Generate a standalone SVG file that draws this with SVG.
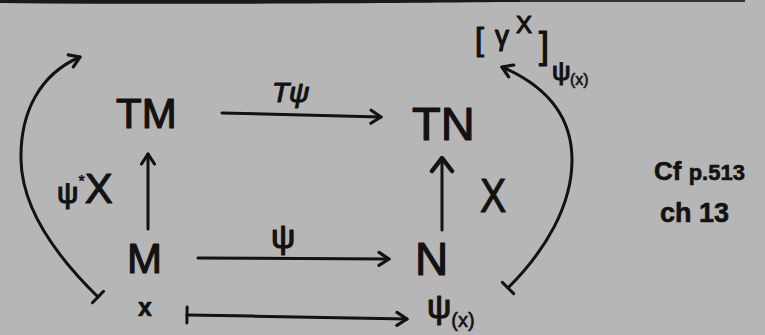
<svg xmlns="http://www.w3.org/2000/svg" width="765" height="335" viewBox="0 0 765 335">
  <defs>
    <style>
      .ink { fill: #121212; stroke: #121212; stroke-width: 1.2; stroke-linejoin: round; font-family: "Liberation Sans", "DejaVu Sans", sans-serif; }
      .thin { stroke-width: 0.6; }
      .line { fill: none; stroke: #121212; stroke-width: 3; stroke-linecap: round; stroke-linejoin: round; }
    </style>
    <!-- open chevron arrowhead -->
    <marker id="head" viewBox="-13 -9 15 18" refX="0" refY="0" markerWidth="15" markerHeight="18" markerUnits="userSpaceOnUse" orient="auto">
      <path d="M-10,-6.5 L0,0 L-10,6.5" fill="none" stroke="#121212" stroke-width="3.2" stroke-linecap="round" stroke-linejoin="round"/>
    </marker>
    <marker id="headBig" viewBox="-17 -13 19 26" refX="0" refY="0" markerWidth="19" markerHeight="26" markerUnits="userSpaceOnUse" orient="auto">
      <path d="M-13,-10 L0,0 L-13,10" fill="none" stroke="#121212" stroke-width="4.5" stroke-linecap="round" stroke-linejoin="round"/>
    </marker>
    <!-- maps-to tail bar -->
    <marker id="bar" viewBox="-3 -10 6 20" refX="0" refY="0" markerWidth="6" markerHeight="20" markerUnits="userSpaceOnUse" orient="auto">
      <path d="M0,-8 L0,8" stroke="#121212" stroke-width="3" stroke-linecap="round"/>
    </marker>
  </defs>

  <!-- paper -->
  <rect x="0" y="0" width="765" height="335" fill="#b6b6b6"/>
  <!-- dark edge along the top -->
  <path d="M0,0 H520 V2 C400,3 200,5 0,3 Z" fill="#1a1a1a"/>
  <path d="M520,0 H745 V2 C650,2 580,2 520,2 Z" fill="#333"/>

  <g id="connectors">
    <!-- T psi : TM -> TN -->
    <path class="line" d="M222,113 L381,117" marker-end="url(#head)"/>
    <!-- psi : M -> N -->
    <path class="line" d="M198,258 L389,259" marker-end="url(#head)"/>
    <!-- psi*X : M -> TM -->
    <path class="line" d="M148,229 L148,154" marker-end="url(#head)"/>
    <!-- X : N -> TN -->
    <path class="line" d="M442,230 L442,158" stroke-width="5" marker-end="url(#headBig)"/>
    <!-- x |-> psi(x) -->
    <path class="line" d="M187,315 C260,316 330,318 407,319" marker-start="url(#bar)" marker-end="url(#head)"/>
    <!-- left loop -->
    <path class="line" d="M98,297 C56,256 22,208 21,160 C20,112 40,74 80,57" marker-start="url(#bar)" marker-end="url(#head)"/>
    <!-- right loop -->
    <path class="line" d="M508,288 C546,250 572,205 572,160 C572,116 546,86 502,67" marker-start="url(#bar)" marker-end="url(#head)"/>
    <!-- arrow labels -->
    <text class="ink" x="272" y="102" font-size="28" font-style="italic">Tψ</text>
    <text class="ink" x="271" y="248" font-size="34">ψ</text>
    <text class="ink" x="57" y="203"><tspan font-size="30">ψ</tspan><tspan font-size="16" dy="-16" class="thin">*</tspan><tspan font-size="42" dy="16">X</tspan></text>
    <text class="ink" x="480" y="212" font-size="48" transform="translate(480 0) scale(0.82 1) translate(-480 0)">X</text>
  </g>

  <g id="node-TM">
    <text class="ink" x="116" y="128" font-size="42">TM</text>
  </g>
  <g id="node-TN">
    <text class="ink" x="412" y="140" font-size="47">TN</text>
  </g>
  <g id="node-M">
    <text class="ink" x="127" y="273" font-size="42">M</text>
  </g>
  <g id="node-N">
    <text class="ink" x="415" y="275" font-size="46">N</text>
  </g>
  <g id="node-x">
    <text class="ink thin" x="138" y="316" font-size="25" font-weight="bold">x</text>
  </g>
  <g id="node-psi-x">
    <text class="ink" x="427" y="318"><tspan font-size="34">ψ</tspan><tspan font-size="20" dy="9" class="thin">(x)</tspan></text>
  </g>
  <g id="node-gammaX">
    <text class="ink"><tspan x="475" y="50" font-size="32">[</tspan><tspan x="495" y="45" font-size="28">γ</tspan><tspan x="516" y="33" font-size="24">X</tspan></text>
    <text class="ink"><tspan x="539" y="58" font-size="36">]</tspan><tspan x="552" y="80" font-size="26">ψ</tspan><tspan x="570" y="85" font-size="16" class="thin">(x)</tspan></text>
  </g>
  <g id="note">
    <text class="ink thin" x="654" y="180" font-size="26" font-weight="bold">Cf <tspan font-size="22">p.513</tspan></text>
    <text class="ink thin" x="660" y="222" font-size="27" font-weight="bold">ch 13</text>
  </g>
</svg>
